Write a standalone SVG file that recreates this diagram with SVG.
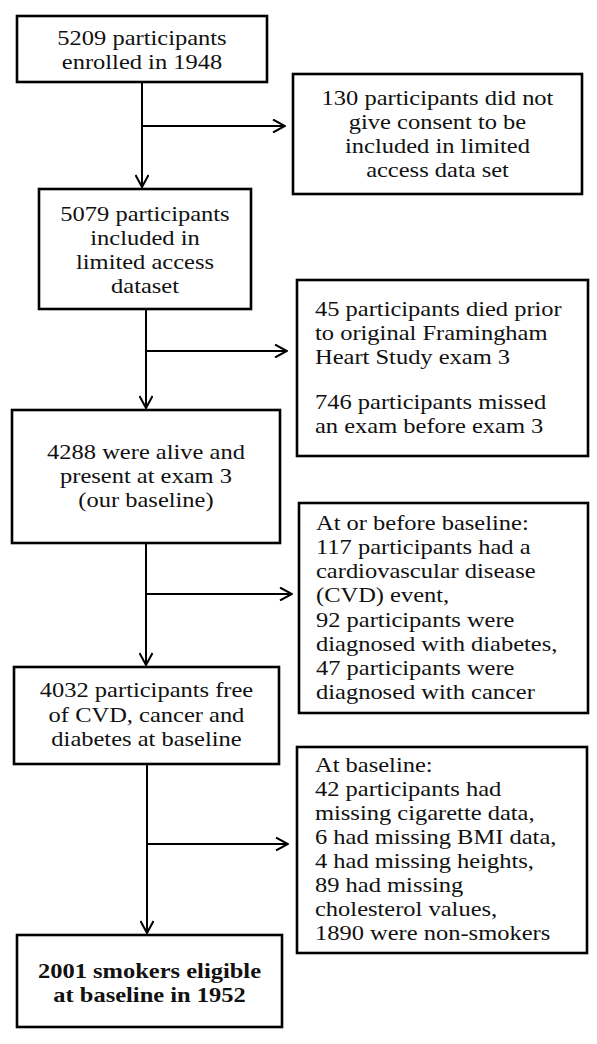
<svg xmlns="http://www.w3.org/2000/svg" width="597" height="1044" viewBox="0 0 597 1044">
<style>
.box{fill:#fff;stroke:#000;stroke-width:2.6}
.t{font-family:"Liberation Serif","Times New Roman",serif;font-size:21px;fill:#111}
.c{text-anchor:middle}
.b{font-weight:bold}
.ln{fill:none;stroke:#000;stroke-width:2}
</style>
<defs>
<marker id="ah" viewBox="0 0 14 14" refX="13" refY="7" markerWidth="14" markerHeight="14" markerUnits="userSpaceOnUse" orient="auto">
<path d="M1,0.5 L13,7 L1,13.5" fill="none" stroke="#000" stroke-width="2"/>
</marker>
</defs>
<rect width="597" height="1044" fill="#fff"/>
<g id="connectors">
<path class="ln" d="M142,82 V187" marker-end="url(#ah)"/>
<path class="ln" d="M142,126 H285" marker-end="url(#ah)"/>
<path class="ln" d="M146,309 V408" marker-end="url(#ah)"/>
<path class="ln" d="M146,351 H287" marker-end="url(#ah)"/>
<path class="ln" d="M146,543 V665" marker-end="url(#ah)"/>
<path class="ln" d="M147,594 H292" marker-end="url(#ah)"/>
<path class="ln" d="M147,764 V933" marker-end="url(#ah)"/>
<path class="ln" d="M147,844 H288" marker-end="url(#ah)"/>
</g>
<g id="n1">
<rect class="box" x="17" y="16" width="250" height="66"/>
<text class="t c" transform="translate(142,0) scale(1.1667,1)"><tspan x="0" y="45">5209 participants</tspan><tspan x="0" y="69">enrolled in 1948</tspan></text>
</g>
<g id="n2">
<rect class="box" x="293" y="74" width="289" height="120"/>
<text class="t c" transform="translate(437.5,0) scale(1.1667,1)"><tspan x="0" y="105">130 participants did not</tspan><tspan x="0" y="129">give consent to be</tspan><tspan x="0" y="153">included in limited</tspan><tspan x="0" y="177">access data set</tspan></text>
</g>
<g id="n3">
<rect class="box" x="39" y="189" width="212" height="120"/>
<text class="t c" transform="translate(145,0) scale(1.1667,1)"><tspan x="0" y="221">5079 participants</tspan><tspan x="0" y="245">included in</tspan><tspan x="0" y="269">limited access</tspan><tspan x="0" y="293">dataset</tspan></text>
</g>
<g id="n4">
<rect class="box" x="297" y="280" width="291" height="176"/>
<text class="t" transform="translate(315,0) scale(1.1667,1)"><tspan x="0" y="316">45 participants died prior</tspan><tspan x="0" y="340">to original Framingham</tspan><tspan x="0" y="364">Heart Study exam 3</tspan><tspan x="0" y="409">746 participants missed</tspan><tspan x="0" y="433">an exam before exam 3</tspan></text>
</g>
<g id="n5">
<rect class="box" x="12" y="410" width="268" height="133"/>
<text class="t c" transform="translate(146,0) scale(1.1667,1)"><tspan x="0" y="459">4288 were alive and</tspan><tspan x="0" y="483">present at exam 3</tspan><tspan x="0" y="507">(our baseline)</tspan></text>
</g>
<g id="n6">
<rect class="box" x="299" y="503" width="289" height="210"/>
<text class="t" transform="translate(316,0) scale(1.1667,1)"><tspan x="0" y="530">At or before baseline:</tspan><tspan x="0" y="554">117 participants had a</tspan><tspan x="0" y="578">cardiovascular disease</tspan><tspan x="0" y="602">(CVD) event,</tspan><tspan x="0" y="627">92 participants were</tspan><tspan x="0" y="651">diagnosed with diabetes,</tspan><tspan x="0" y="675">47 participants were</tspan><tspan x="0" y="699">diagnosed with cancer</tspan></text>
</g>
<g id="n7">
<rect class="box" x="14" y="667" width="265" height="97"/>
<text class="t c" transform="translate(146.5,0) scale(1.1667,1)"><tspan x="0" y="697">4032 participants free</tspan><tspan x="0" y="722">of CVD, cancer and</tspan><tspan x="0" y="746">diabetes at baseline</tspan></text>
</g>
<g id="n8">
<rect class="box" x="297" y="747" width="290" height="206"/>
<text class="t" transform="translate(315,0) scale(1.1667,1)"><tspan x="0" y="772">At baseline:</tspan><tspan x="0" y="796">42 participants had</tspan><tspan x="0" y="820">missing cigarette data,</tspan><tspan x="0" y="844">6 had missing BMI data,</tspan><tspan x="0" y="868">4 had missing heights,</tspan><tspan x="0" y="892">89 had missing</tspan><tspan x="0" y="916">cholesterol values,</tspan><tspan x="0" y="940">1890 were non-smokers</tspan></text>
</g>
<g id="n9">
<rect class="box" x="17" y="935" width="265" height="92"/>
<text class="t c b" transform="translate(149.5,0) scale(1.1667,1)"><tspan x="0" y="978">2001 smokers eligible</tspan><tspan x="0" y="1002">at baseline in 1952</tspan></text>
</g>
</svg>
